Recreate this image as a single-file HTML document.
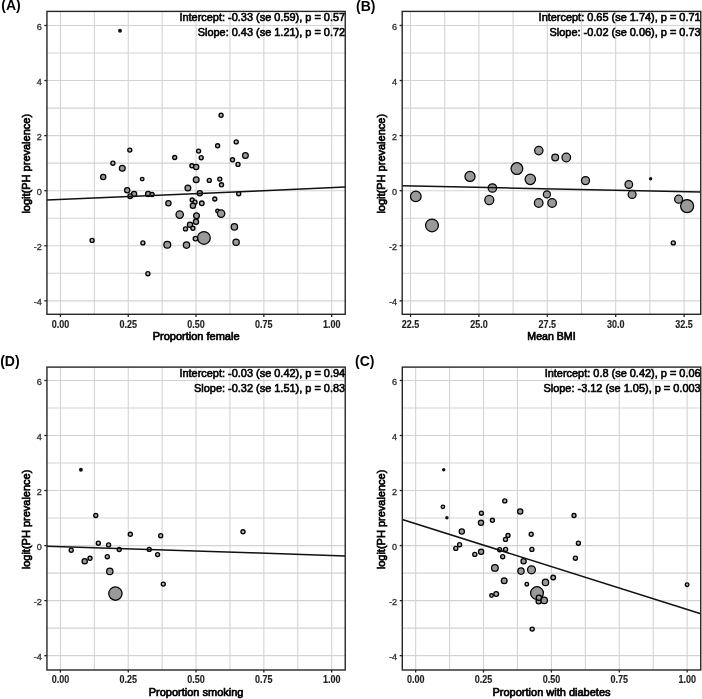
<!DOCTYPE html>
<html><head><meta charset="utf-8"><title>Meta-regression plots</title>
<style>
html,body{margin:0;padding:0;background:#fff;}
body{width:702px;height:699px;overflow:hidden;}
svg{display:block;font-family:"Liberation Sans",sans-serif;filter:grayscale(1) blur(0.35px);}
.g{stroke:#d3d3d3;stroke-width:1.1;fill:none;}
.bd{stroke:#262626;stroke-width:1.4;fill:none;}
.tk{stroke:#222;stroke-width:1.3;}
.rl{stroke:#111;stroke-width:1.5;}
.pt{fill:#999;stroke:#000;stroke-width:1.25;}
.ps{fill:#b4b4b4;stroke-width:1.35;}
.pt0{fill:#111;stroke:none;}
.ax{font-size:10px;font-weight:bold;fill:#1e1e1e;stroke:#1e1e1e;stroke-width:0.15px;}
.ay{font-size:9.1px;fill:#333;stroke:#333;stroke-width:0.35px;}
.at{font-size:11px;fill:#000;stroke:#000;stroke-width:0.7px;}
.ann{font-size:10.95px;fill:#000;stroke:#000;stroke-width:0.6px;}
.lab{font-size:14px;font-weight:bold;fill:#000;}
</style></head>
<body>
<svg width="702" height="699" viewBox="0 0 702 699">
<rect width="702" height="699" fill="#fff"/>
<text x="1.3" y="10.4" class="lab">(A)</text>
<text x="356.1" y="10.6" class="lab">(B)</text>
<text x="0.2" y="365.5" class="lab">(D)</text>
<text x="355.1" y="365.5" class="lab">(C)</text>
<line x1="94.35" y1="11.40" x2="94.35" y2="314.30" class="g"/>
<line x1="162.15" y1="11.40" x2="162.15" y2="314.30" class="g"/>
<line x1="229.95" y1="11.40" x2="229.95" y2="314.30" class="g"/>
<line x1="297.75" y1="11.40" x2="297.75" y2="314.30" class="g"/>
<line x1="60.45" y1="11.40" x2="60.45" y2="314.30" class="g"/>
<line x1="128.25" y1="11.40" x2="128.25" y2="314.30" class="g"/>
<line x1="196.05" y1="11.40" x2="196.05" y2="314.30" class="g"/>
<line x1="263.85" y1="11.40" x2="263.85" y2="314.30" class="g"/>
<line x1="331.65" y1="11.40" x2="331.65" y2="314.30" class="g"/>
<line x1="46.94" y1="300.83" x2="345.24" y2="300.83" class="g"/>
<line x1="46.94" y1="273.30" x2="345.24" y2="273.30" class="g"/>
<line x1="46.94" y1="245.76" x2="345.24" y2="245.76" class="g"/>
<line x1="46.94" y1="218.22" x2="345.24" y2="218.22" class="g"/>
<line x1="46.94" y1="190.69" x2="345.24" y2="190.69" class="g"/>
<line x1="46.94" y1="163.15" x2="345.24" y2="163.15" class="g"/>
<line x1="46.94" y1="135.61" x2="345.24" y2="135.61" class="g"/>
<line x1="46.94" y1="108.08" x2="345.24" y2="108.08" class="g"/>
<line x1="46.94" y1="80.54" x2="345.24" y2="80.54" class="g"/>
<line x1="46.94" y1="53.00" x2="345.24" y2="53.00" class="g"/>
<line x1="46.94" y1="25.47" x2="345.24" y2="25.47" class="g"/>
<circle cx="120.0" cy="30.7" r="1.95" class="pt0"/>
<circle cx="221.1" cy="115.3" r="2.02" class="pt ps"/>
<circle cx="129.8" cy="150.1" r="2.02" class="pt ps"/>
<circle cx="236.2" cy="141.9" r="2.02" class="pt ps"/>
<circle cx="217.6" cy="145.8" r="2.02" class="pt ps"/>
<circle cx="198.6" cy="151.1" r="2.02" class="pt ps"/>
<circle cx="201.2" cy="157.7" r="2.02" class="pt ps"/>
<circle cx="174.7" cy="157.5" r="2.02" class="pt ps"/>
<circle cx="245.4" cy="155.4" r="2.89" class="pt"/>
<circle cx="232.5" cy="159.8" r="2.02" class="pt ps"/>
<circle cx="238.0" cy="164.4" r="2.02" class="pt ps"/>
<circle cx="191.9" cy="165.8" r="2.02" class="pt ps"/>
<circle cx="196.2" cy="167.0" r="2.62" class="pt"/>
<circle cx="112.9" cy="163.2" r="2.02" class="pt ps"/>
<circle cx="122.3" cy="168.3" r="2.89" class="pt"/>
<circle cx="103.2" cy="176.9" r="2.62" class="pt"/>
<circle cx="142.2" cy="179.1" r="1.80" class="pt ps"/>
<circle cx="196.2" cy="179.8" r="2.89" class="pt"/>
<circle cx="209.3" cy="180.4" r="2.02" class="pt ps"/>
<circle cx="219.8" cy="179.1" r="2.02" class="pt ps"/>
<circle cx="221.5" cy="184.8" r="2.02" class="pt ps"/>
<circle cx="127.2" cy="190.2" r="2.62" class="pt"/>
<circle cx="134.1" cy="194.1" r="2.62" class="pt"/>
<circle cx="130.2" cy="196.2" r="2.29" class="pt ps"/>
<circle cx="148.2" cy="194.1" r="2.62" class="pt"/>
<circle cx="152.1" cy="194.5" r="2.02" class="pt ps"/>
<circle cx="187.9" cy="188.0" r="2.89" class="pt"/>
<circle cx="199.8" cy="193.3" r="2.62" class="pt"/>
<circle cx="238.7" cy="193.7" r="2.02" class="pt ps"/>
<circle cx="192.2" cy="200.0" r="2.02" class="pt ps"/>
<circle cx="214.8" cy="199.0" r="2.02" class="pt ps"/>
<circle cx="195.0" cy="202.2" r="2.02" class="pt ps"/>
<circle cx="201.8" cy="203.3" r="2.29" class="pt ps"/>
<circle cx="192.9" cy="205.7" r="2.62" class="pt"/>
<circle cx="168.4" cy="203.2" r="2.62" class="pt"/>
<circle cx="179.7" cy="214.6" r="3.70" class="pt"/>
<circle cx="196.5" cy="215.8" r="2.89" class="pt"/>
<circle cx="217.5" cy="211.0" r="1.80" class="pt ps"/>
<circle cx="221.1" cy="213.6" r="3.70" class="pt"/>
<circle cx="196.0" cy="221.8" r="2.62" class="pt"/>
<circle cx="190.0" cy="224.8" r="2.62" class="pt"/>
<circle cx="185.5" cy="228.9" r="2.02" class="pt ps"/>
<circle cx="192.9" cy="228.3" r="2.02" class="pt ps"/>
<circle cx="234.4" cy="226.9" r="3.16" class="pt"/>
<circle cx="203.9" cy="237.9" r="6.40" class="pt"/>
<circle cx="195.5" cy="238.6" r="2.29" class="pt ps"/>
<circle cx="236.1" cy="242.2" r="3.16" class="pt"/>
<circle cx="186.5" cy="245.1" r="3.16" class="pt"/>
<circle cx="167.3" cy="244.8" r="3.43" class="pt"/>
<circle cx="92.1" cy="240.4" r="2.02" class="pt ps"/>
<circle cx="142.9" cy="242.9" r="2.02" class="pt ps"/>
<circle cx="147.9" cy="273.7" r="2.02" class="pt ps"/>
<line x1="46.94" y1="200.10" x2="345.24" y2="187.10" class="rl"/>
<text x="345.14" y="20.90" class="ann" text-anchor="end">Intercept: -0.33 (se 0.59), p = 0.57</text>
<text x="345.14" y="36.30" class="ann" text-anchor="end">Slope: 0.43 (se 1.21), p = 0.72</text>
<rect x="46.94" y="11.40" width="298.30" height="302.90" class="bd"/>
<line x1="60.45" y1="314.30" x2="60.45" y2="316.90" class="tk"/>
<text transform="translate(60.45,327.70) scale(0.9,1)" class="ax" text-anchor="middle">0.00</text>
<line x1="128.25" y1="314.30" x2="128.25" y2="316.90" class="tk"/>
<text transform="translate(128.25,327.70) scale(0.9,1)" class="ax" text-anchor="middle">0.25</text>
<line x1="196.05" y1="314.30" x2="196.05" y2="316.90" class="tk"/>
<text transform="translate(196.05,327.70) scale(0.9,1)" class="ax" text-anchor="middle">0.50</text>
<line x1="263.85" y1="314.30" x2="263.85" y2="316.90" class="tk"/>
<text transform="translate(263.85,327.70) scale(0.9,1)" class="ax" text-anchor="middle">0.75</text>
<line x1="331.65" y1="314.30" x2="331.65" y2="316.90" class="tk"/>
<text transform="translate(331.65,327.70) scale(0.9,1)" class="ax" text-anchor="middle">1.00</text>
<line x1="44.34" y1="25.47" x2="46.94" y2="25.47" class="tk"/>
<text x="41.74" y="29.87" class="ay" text-anchor="end">6</text>
<line x1="44.34" y1="80.54" x2="46.94" y2="80.54" class="tk"/>
<text x="41.74" y="84.94" class="ay" text-anchor="end">4</text>
<line x1="44.34" y1="135.61" x2="46.94" y2="135.61" class="tk"/>
<text x="41.74" y="140.01" class="ay" text-anchor="end">2</text>
<line x1="44.34" y1="190.69" x2="46.94" y2="190.69" class="tk"/>
<text x="41.74" y="195.09" class="ay" text-anchor="end">0</text>
<line x1="44.34" y1="245.76" x2="46.94" y2="245.76" class="tk"/>
<text x="41.74" y="250.16" class="ay" text-anchor="end">-2</text>
<line x1="44.34" y1="300.83" x2="46.94" y2="300.83" class="tk"/>
<text x="41.74" y="305.23" class="ay" text-anchor="end">-4</text>
<text x="196.09" y="340.30" class="at" text-anchor="middle">Proportion female</text>
<text transform="translate(29.54,163.75) rotate(-90)" class="at" text-anchor="middle">logit(PH prevalence)</text>
<line x1="444.70" y1="11.40" x2="444.70" y2="314.30" class="g"/>
<line x1="513.10" y1="11.40" x2="513.10" y2="314.30" class="g"/>
<line x1="581.50" y1="11.40" x2="581.50" y2="314.30" class="g"/>
<line x1="649.90" y1="11.40" x2="649.90" y2="314.30" class="g"/>
<line x1="410.50" y1="11.40" x2="410.50" y2="314.30" class="g"/>
<line x1="478.90" y1="11.40" x2="478.90" y2="314.30" class="g"/>
<line x1="547.30" y1="11.40" x2="547.30" y2="314.30" class="g"/>
<line x1="615.70" y1="11.40" x2="615.70" y2="314.30" class="g"/>
<line x1="684.10" y1="11.40" x2="684.10" y2="314.30" class="g"/>
<line x1="402.20" y1="300.83" x2="700.75" y2="300.83" class="g"/>
<line x1="402.20" y1="273.30" x2="700.75" y2="273.30" class="g"/>
<line x1="402.20" y1="245.76" x2="700.75" y2="245.76" class="g"/>
<line x1="402.20" y1="218.22" x2="700.75" y2="218.22" class="g"/>
<line x1="402.20" y1="190.69" x2="700.75" y2="190.69" class="g"/>
<line x1="402.20" y1="163.15" x2="700.75" y2="163.15" class="g"/>
<line x1="402.20" y1="135.61" x2="700.75" y2="135.61" class="g"/>
<line x1="402.20" y1="108.08" x2="700.75" y2="108.08" class="g"/>
<line x1="402.20" y1="80.54" x2="700.75" y2="80.54" class="g"/>
<line x1="402.20" y1="53.00" x2="700.75" y2="53.00" class="g"/>
<line x1="402.20" y1="25.47" x2="700.75" y2="25.47" class="g"/>
<circle cx="415.8" cy="196.4" r="5.32" class="pt"/>
<circle cx="432.0" cy="225.4" r="6.40" class="pt"/>
<circle cx="470.0" cy="176.4" r="5.05" class="pt"/>
<circle cx="492.4" cy="188.0" r="4.24" class="pt"/>
<circle cx="489.3" cy="200.0" r="4.51" class="pt"/>
<circle cx="516.9" cy="168.6" r="5.86" class="pt"/>
<circle cx="530.3" cy="179.3" r="5.21" class="pt"/>
<circle cx="538.8" cy="150.6" r="4.19" class="pt"/>
<circle cx="555.2" cy="157.5" r="3.38" class="pt"/>
<circle cx="566.3" cy="157.5" r="4.29" class="pt"/>
<circle cx="585.5" cy="180.6" r="4.02" class="pt"/>
<circle cx="546.9" cy="194.4" r="3.54" class="pt"/>
<circle cx="538.7" cy="203.0" r="4.29" class="pt"/>
<circle cx="552.1" cy="203.0" r="4.29" class="pt"/>
<circle cx="628.8" cy="184.5" r="3.81" class="pt"/>
<circle cx="632.1" cy="194.4" r="3.97" class="pt"/>
<circle cx="650.6" cy="178.8" r="1.75" class="pt0"/>
<circle cx="678.6" cy="199.2" r="3.97" class="pt"/>
<circle cx="687.1" cy="206.1" r="6.51" class="pt"/>
<circle cx="673.3" cy="242.9" r="2.02" class="pt ps"/>
<line x1="402.20" y1="185.85" x2="700.75" y2="192.00" class="rl"/>
<text x="700.65" y="20.90" class="ann" text-anchor="end">Intercept: 0.65 (se 1.74), p = 0.71</text>
<text x="700.65" y="36.30" class="ann" text-anchor="end">Slope: -0.02 (se 0.06), p = 0.73</text>
<rect x="402.20" y="11.40" width="298.55" height="302.90" class="bd"/>
<line x1="410.50" y1="314.30" x2="410.50" y2="316.90" class="tk"/>
<text transform="translate(410.50,327.70) scale(0.9,1)" class="ax" text-anchor="middle">22.5</text>
<line x1="478.90" y1="314.30" x2="478.90" y2="316.90" class="tk"/>
<text transform="translate(478.90,327.70) scale(0.9,1)" class="ax" text-anchor="middle">25.0</text>
<line x1="547.30" y1="314.30" x2="547.30" y2="316.90" class="tk"/>
<text transform="translate(547.30,327.70) scale(0.9,1)" class="ax" text-anchor="middle">27.5</text>
<line x1="615.70" y1="314.30" x2="615.70" y2="316.90" class="tk"/>
<text transform="translate(615.70,327.70) scale(0.9,1)" class="ax" text-anchor="middle">30.0</text>
<line x1="684.10" y1="314.30" x2="684.10" y2="316.90" class="tk"/>
<text transform="translate(684.10,327.70) scale(0.9,1)" class="ax" text-anchor="middle">32.5</text>
<line x1="399.60" y1="25.47" x2="402.20" y2="25.47" class="tk"/>
<text x="397.00" y="29.87" class="ay" text-anchor="end">6</text>
<line x1="399.60" y1="80.54" x2="402.20" y2="80.54" class="tk"/>
<text x="397.00" y="84.94" class="ay" text-anchor="end">4</text>
<line x1="399.60" y1="135.61" x2="402.20" y2="135.61" class="tk"/>
<text x="397.00" y="140.01" class="ay" text-anchor="end">2</text>
<line x1="399.60" y1="190.69" x2="402.20" y2="190.69" class="tk"/>
<text x="397.00" y="195.09" class="ay" text-anchor="end">0</text>
<line x1="399.60" y1="245.76" x2="402.20" y2="245.76" class="tk"/>
<text x="397.00" y="250.16" class="ay" text-anchor="end">-2</text>
<line x1="399.60" y1="300.83" x2="402.20" y2="300.83" class="tk"/>
<text x="397.00" y="305.23" class="ay" text-anchor="end">-4</text>
<text x="551.48" y="340.30" class="at" text-anchor="middle" textLength="48.3" lengthAdjust="spacingAndGlyphs">Mean BMI</text>
<text transform="translate(384.80,163.75) rotate(-90)" class="at" text-anchor="middle">logit(PH prevalence)</text>
<line x1="94.35" y1="367.10" x2="94.35" y2="670.00" class="g"/>
<line x1="162.15" y1="367.10" x2="162.15" y2="670.00" class="g"/>
<line x1="229.95" y1="367.10" x2="229.95" y2="670.00" class="g"/>
<line x1="297.75" y1="367.10" x2="297.75" y2="670.00" class="g"/>
<line x1="60.45" y1="367.10" x2="60.45" y2="670.00" class="g"/>
<line x1="128.25" y1="367.10" x2="128.25" y2="670.00" class="g"/>
<line x1="196.05" y1="367.10" x2="196.05" y2="670.00" class="g"/>
<line x1="263.85" y1="367.10" x2="263.85" y2="670.00" class="g"/>
<line x1="331.65" y1="367.10" x2="331.65" y2="670.00" class="g"/>
<line x1="46.94" y1="655.66" x2="345.24" y2="655.66" class="g"/>
<line x1="46.94" y1="628.14" x2="345.24" y2="628.14" class="g"/>
<line x1="46.94" y1="600.62" x2="345.24" y2="600.62" class="g"/>
<line x1="46.94" y1="573.10" x2="345.24" y2="573.10" class="g"/>
<line x1="46.94" y1="545.58" x2="345.24" y2="545.58" class="g"/>
<line x1="46.94" y1="518.06" x2="345.24" y2="518.06" class="g"/>
<line x1="46.94" y1="490.54" x2="345.24" y2="490.54" class="g"/>
<line x1="46.94" y1="463.02" x2="345.24" y2="463.02" class="g"/>
<line x1="46.94" y1="435.50" x2="345.24" y2="435.50" class="g"/>
<line x1="46.94" y1="407.98" x2="345.24" y2="407.98" class="g"/>
<line x1="46.94" y1="380.46" x2="345.24" y2="380.46" class="g"/>
<circle cx="80.9" cy="469.7" r="1.95" class="pt0"/>
<circle cx="95.8" cy="515.5" r="2.02" class="pt ps"/>
<circle cx="130.3" cy="534.3" r="2.02" class="pt ps"/>
<circle cx="160.7" cy="535.7" r="2.02" class="pt ps"/>
<circle cx="243.0" cy="531.8" r="2.02" class="pt ps"/>
<circle cx="98.3" cy="543.2" r="2.02" class="pt ps"/>
<circle cx="108.6" cy="544.9" r="2.02" class="pt ps"/>
<circle cx="71.2" cy="550.2" r="2.02" class="pt ps"/>
<circle cx="119.2" cy="549.5" r="2.02" class="pt ps"/>
<circle cx="149.2" cy="549.4" r="2.02" class="pt ps"/>
<circle cx="157.6" cy="554.6" r="2.02" class="pt ps"/>
<circle cx="84.7" cy="561.3" r="2.62" class="pt"/>
<circle cx="90.0" cy="558.3" r="2.02" class="pt ps"/>
<circle cx="107.3" cy="556.7" r="2.02" class="pt ps"/>
<circle cx="109.8" cy="571.4" r="3.16" class="pt"/>
<circle cx="115.4" cy="593.6" r="6.67" class="pt"/>
<circle cx="163.3" cy="584.1" r="2.02" class="pt ps"/>
<line x1="46.94" y1="546.20" x2="345.24" y2="555.90" class="rl"/>
<text x="345.14" y="376.60" class="ann" text-anchor="end">Intercept: -0.03 (se 0.42), p = 0.94</text>
<text x="345.14" y="392.00" class="ann" text-anchor="end">Slope: -0.32 (se 1.51), p = 0.83</text>
<rect x="46.94" y="367.10" width="298.30" height="302.90" class="bd"/>
<line x1="60.45" y1="670.00" x2="60.45" y2="672.60" class="tk"/>
<text transform="translate(60.45,683.40) scale(0.9,1)" class="ax" text-anchor="middle">0.00</text>
<line x1="128.25" y1="670.00" x2="128.25" y2="672.60" class="tk"/>
<text transform="translate(128.25,683.40) scale(0.9,1)" class="ax" text-anchor="middle">0.25</text>
<line x1="196.05" y1="670.00" x2="196.05" y2="672.60" class="tk"/>
<text transform="translate(196.05,683.40) scale(0.9,1)" class="ax" text-anchor="middle">0.50</text>
<line x1="263.85" y1="670.00" x2="263.85" y2="672.60" class="tk"/>
<text transform="translate(263.85,683.40) scale(0.9,1)" class="ax" text-anchor="middle">0.75</text>
<line x1="331.65" y1="670.00" x2="331.65" y2="672.60" class="tk"/>
<text transform="translate(331.65,683.40) scale(0.9,1)" class="ax" text-anchor="middle">1.00</text>
<line x1="44.34" y1="380.46" x2="46.94" y2="380.46" class="tk"/>
<text x="41.74" y="384.86" class="ay" text-anchor="end">6</text>
<line x1="44.34" y1="435.50" x2="46.94" y2="435.50" class="tk"/>
<text x="41.74" y="439.90" class="ay" text-anchor="end">4</text>
<line x1="44.34" y1="490.54" x2="46.94" y2="490.54" class="tk"/>
<text x="41.74" y="494.94" class="ay" text-anchor="end">2</text>
<line x1="44.34" y1="545.58" x2="46.94" y2="545.58" class="tk"/>
<text x="41.74" y="549.98" class="ay" text-anchor="end">0</text>
<line x1="44.34" y1="600.62" x2="46.94" y2="600.62" class="tk"/>
<text x="41.74" y="605.02" class="ay" text-anchor="end">-2</text>
<line x1="44.34" y1="655.66" x2="46.94" y2="655.66" class="tk"/>
<text x="41.74" y="660.06" class="ay" text-anchor="end">-4</text>
<text x="196.09" y="696.00" class="at" text-anchor="middle">Proportion smoking</text>
<text transform="translate(29.54,519.45) rotate(-90)" class="at" text-anchor="middle">logit(PH prevalence)</text>
<line x1="449.59" y1="367.10" x2="449.59" y2="670.00" class="g"/>
<line x1="517.46" y1="367.10" x2="517.46" y2="670.00" class="g"/>
<line x1="585.34" y1="367.10" x2="585.34" y2="670.00" class="g"/>
<line x1="653.21" y1="367.10" x2="653.21" y2="670.00" class="g"/>
<line x1="415.65" y1="367.10" x2="415.65" y2="670.00" class="g"/>
<line x1="483.52" y1="367.10" x2="483.52" y2="670.00" class="g"/>
<line x1="551.40" y1="367.10" x2="551.40" y2="670.00" class="g"/>
<line x1="619.27" y1="367.10" x2="619.27" y2="670.00" class="g"/>
<line x1="687.15" y1="367.10" x2="687.15" y2="670.00" class="g"/>
<line x1="402.30" y1="655.66" x2="700.75" y2="655.66" class="g"/>
<line x1="402.30" y1="628.14" x2="700.75" y2="628.14" class="g"/>
<line x1="402.30" y1="600.62" x2="700.75" y2="600.62" class="g"/>
<line x1="402.30" y1="573.10" x2="700.75" y2="573.10" class="g"/>
<line x1="402.30" y1="545.58" x2="700.75" y2="545.58" class="g"/>
<line x1="402.30" y1="518.06" x2="700.75" y2="518.06" class="g"/>
<line x1="402.30" y1="490.54" x2="700.75" y2="490.54" class="g"/>
<line x1="402.30" y1="463.02" x2="700.75" y2="463.02" class="g"/>
<line x1="402.30" y1="435.50" x2="700.75" y2="435.50" class="g"/>
<line x1="402.30" y1="407.98" x2="700.75" y2="407.98" class="g"/>
<line x1="402.30" y1="380.46" x2="700.75" y2="380.46" class="g"/>
<circle cx="443.7" cy="469.7" r="1.75" class="pt0"/>
<circle cx="442.9" cy="506.8" r="1.75" class="pt ps"/>
<circle cx="446.9" cy="517.7" r="1.75" class="pt0"/>
<circle cx="504.8" cy="500.9" r="2.02" class="pt ps"/>
<circle cx="481.4" cy="513.2" r="2.02" class="pt ps"/>
<circle cx="520.2" cy="511.4" r="2.62" class="pt"/>
<circle cx="492.4" cy="520.3" r="2.02" class="pt ps"/>
<circle cx="481.0" cy="522.7" r="2.62" class="pt"/>
<circle cx="461.8" cy="531.5" r="2.62" class="pt"/>
<circle cx="574.0" cy="515.5" r="2.02" class="pt ps"/>
<circle cx="508.0" cy="535.5" r="2.02" class="pt ps"/>
<circle cx="505.5" cy="539.4" r="2.02" class="pt ps"/>
<circle cx="459.6" cy="544.7" r="2.02" class="pt ps"/>
<circle cx="455.8" cy="548.4" r="2.02" class="pt ps"/>
<circle cx="531.2" cy="534.3" r="2.02" class="pt ps"/>
<circle cx="578.4" cy="543.2" r="2.02" class="pt ps"/>
<circle cx="499.7" cy="549.7" r="2.02" class="pt ps"/>
<circle cx="505.6" cy="549.4" r="2.02" class="pt ps"/>
<circle cx="531.9" cy="549.4" r="2.02" class="pt ps"/>
<circle cx="481.1" cy="551.8" r="2.62" class="pt"/>
<circle cx="474.8" cy="554.4" r="2.02" class="pt ps"/>
<circle cx="502.7" cy="556.7" r="2.02" class="pt ps"/>
<circle cx="575.4" cy="558.2" r="2.02" class="pt ps"/>
<circle cx="523.6" cy="561.2" r="2.62" class="pt"/>
<circle cx="521.0" cy="571.1" r="3.16" class="pt"/>
<circle cx="531.5" cy="569.8" r="3.97" class="pt"/>
<circle cx="504.2" cy="580.7" r="2.89" class="pt"/>
<circle cx="526.8" cy="584.2" r="1.80" class="pt ps"/>
<circle cx="545.5" cy="582.4" r="3.16" class="pt"/>
<circle cx="553.2" cy="577.5" r="2.29" class="pt ps"/>
<circle cx="494.9" cy="567.9" r="3.32" class="pt"/>
<circle cx="496.2" cy="594.0" r="2.34" class="pt ps"/>
<circle cx="491.5" cy="595.5" r="1.80" class="pt ps"/>
<circle cx="537.0" cy="593.1" r="6.40" class="pt"/>
<circle cx="538.7" cy="601.2" r="2.62" class="pt"/>
<circle cx="538.9" cy="597.8" r="2.62" class="pt"/>
<circle cx="544.2" cy="600.4" r="3.16" class="pt"/>
<circle cx="532.2" cy="629.1" r="2.02" class="pt ps"/>
<circle cx="687.1" cy="584.7" r="1.80" class="pt ps"/>
<line x1="402.30" y1="519.50" x2="700.75" y2="613.80" class="rl"/>
<text x="700.65" y="376.60" class="ann" text-anchor="end">Intercept: 0.8 (se 0.42), p = 0.06</text>
<text x="700.65" y="392.00" class="ann" text-anchor="end">Slope: -3.12 (se 1.05), p = 0.003</text>
<rect x="402.30" y="367.10" width="298.45" height="302.90" class="bd"/>
<line x1="415.65" y1="670.00" x2="415.65" y2="672.60" class="tk"/>
<text transform="translate(415.65,683.40) scale(0.9,1)" class="ax" text-anchor="middle">0.00</text>
<line x1="483.52" y1="670.00" x2="483.52" y2="672.60" class="tk"/>
<text transform="translate(483.52,683.40) scale(0.9,1)" class="ax" text-anchor="middle">0.25</text>
<line x1="551.40" y1="670.00" x2="551.40" y2="672.60" class="tk"/>
<text transform="translate(551.40,683.40) scale(0.9,1)" class="ax" text-anchor="middle">0.50</text>
<line x1="619.27" y1="670.00" x2="619.27" y2="672.60" class="tk"/>
<text transform="translate(619.27,683.40) scale(0.9,1)" class="ax" text-anchor="middle">0.75</text>
<line x1="687.15" y1="670.00" x2="687.15" y2="672.60" class="tk"/>
<text transform="translate(687.15,683.40) scale(0.9,1)" class="ax" text-anchor="middle">1.00</text>
<line x1="399.70" y1="380.46" x2="402.30" y2="380.46" class="tk"/>
<text x="397.10" y="384.86" class="ay" text-anchor="end">6</text>
<line x1="399.70" y1="435.50" x2="402.30" y2="435.50" class="tk"/>
<text x="397.10" y="439.90" class="ay" text-anchor="end">4</text>
<line x1="399.70" y1="490.54" x2="402.30" y2="490.54" class="tk"/>
<text x="397.10" y="494.94" class="ay" text-anchor="end">2</text>
<line x1="399.70" y1="545.58" x2="402.30" y2="545.58" class="tk"/>
<text x="397.10" y="549.98" class="ay" text-anchor="end">0</text>
<line x1="399.70" y1="600.62" x2="402.30" y2="600.62" class="tk"/>
<text x="397.10" y="605.02" class="ay" text-anchor="end">-2</text>
<line x1="399.70" y1="655.66" x2="402.30" y2="655.66" class="tk"/>
<text x="397.10" y="660.06" class="ay" text-anchor="end">-4</text>
<text x="551.52" y="696.00" class="at" text-anchor="middle">Proportion with diabetes</text>
<text transform="translate(384.90,519.45) rotate(-90)" class="at" text-anchor="middle">logit(PH prevalence)</text>
</svg>
</body></html>
